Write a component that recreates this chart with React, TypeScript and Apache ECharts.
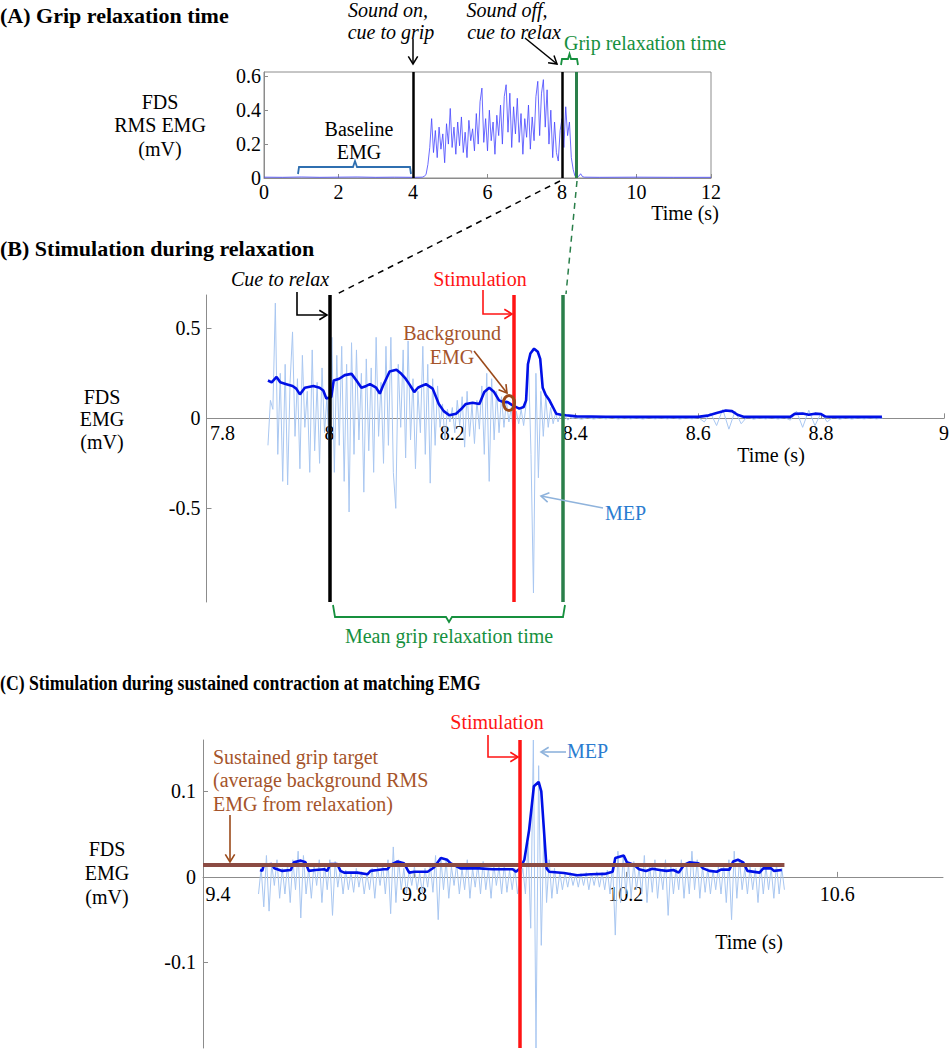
import React, { useEffect, useRef } from "react";
import * as echarts from "echarts";

const FONT = '"Liberation Serif", "Times New Roman", Times, serif';

// ---------------- Panel A: grip relaxation time ----------------
const cueGripTime = 4.0;
const cueRelaxTime = 8.0;
const relaxEndTime = 8.38;
const aRest: [number, number][] = [
  [0, 0.005], [0.5, 0.004], [1.0, 0.006], [1.5, 0.004], [2.0, 0.005],
  [2.5, 0.006], [3.0, 0.004], [3.5, 0.005], [4.0, 0.004], [4.25, 0.005],
];
const aGripStart = 4.3;
const aGripStep = 0.05;
const aGripRms = [
  0.01, 0.02, 0.08, 0.18, 0.35, 0.15, 0.28, 0.12, 0.30, 0.17,
  0.26, 0.09, 0.32, 0.20, 0.41, 0.18, 0.30, 0.14, 0.33, 0.19,
  0.36, 0.15, 0.27, 0.12, 0.34, 0.22, 0.29, 0.16, 0.38, 0.20,
  0.45, 0.53, 0.21, 0.35, 0.16, 0.40, 0.22, 0.33, 0.14, 0.37,
  0.25, 0.43, 0.20, 0.48, 0.55, 0.27, 0.50, 0.18, 0.42, 0.26,
  0.47, 0.21, 0.38, 0.14, 0.35, 0.24, 0.43, 0.17, 0.36, 0.22,
  0.48, 0.57, 0.25, 0.50, 0.58, 0.30, 0.52, 0.20, 0.40, 0.12,
  0.33, 0.15, 0.10, 0.28, 0.35, 0.18, 0.42, 0.25, 0.33, 0.12,
  0.05, 0.01,
];
const aAfter: [number, number][] = [
  [8.4, 0.005], [8.45, 0.01], [8.5, 0.025], [8.55, 0.008], [8.6, 0.005],
  [9, 0.004], [10, 0.005], [11, 0.004], [12, 0.004],
];

// ---------------- Panel B: stimulation during relaxation ----------------
const stimTimeB = 8.301;
const bRawStart = 7.9;
const bRawStep = 0.004;
const bRawActive = [
  -0.15, 0.10, 0.05, 0.64, -0.20, 0.25, -0.35, 0.30, -0.37, 0.20,
  0.48, -0.10, 0.22, -0.28, 0.35, -0.05, 0.15, -0.30, 0.38, -0.18,
  0.20, -0.25, 0.28, -0.08, 0.12, -0.22, 0.45, -0.30, 0.35, -0.15,
  0.40, -0.35, 0.30, -0.52, 0.42, -0.20, 0.38, -0.12, 0.25, -0.41,
  0.33, -0.18, 0.28, -0.30, 0.45, -0.10, 0.20, -0.25, 0.40, -0.15,
  0.45, -0.30, -0.50, 0.30, -0.05, 0.38, -0.22, 0.43, -0.12, 0.22,
  -0.28, 0.15, -0.08, 0.40, -0.20, 0.30, -0.36, 0.22, -0.15, 0.18,
  -0.05, 0.08, -0.12, 0.05, -0.02, 0.06, -0.08, 0.10, -0.04, 0.12,
  -0.16, 0.15, -0.10, 0.08, -0.14, 0.10, -0.06, 0.18, -0.20, 0.25,
  -0.35, 0.22, -0.12, 0.15, -0.08, 0.12, -0.05, 0.10, -0.02, 0.06,
  -0.13, 0.04, -0.03, 0.05, -0.04, 0.08, 0.30, -0.20, -0.97, 0.25,
  -0.33, 0.15, -0.10, 0.12, -0.05, 0.06, -0.03, 0.03, -0.02, 0.02,
  -0.01, 0.01, -0.01, 0.005, 0.0,
];
const bRawTailStart = 8.4;
const bRawTailStep = 0.01;
const bRawTail = [
  0.005, -0.005, 0.004, -0.004, 0.003, -0.003, 0.004, -0.004, 0.003, -0.003,
  0.003, -0.004, 0.004, -0.003, 0.003, -0.003, 0.004, -0.004, 0.003, -0.003,
  0.005, -0.02, 0.03, -0.04, 0.05, -0.06, 0.04, -0.03, 0.01, -0.005,
  0.003, -0.003, 0.004, -0.004, 0.005, -0.01, 0.04, -0.05, 0.045, -0.04,
  0.03, -0.02, 0.01, -0.005, 0.004, -0.004, 0.003, -0.003, 0.003, -0.003,
  0.002,
];
const bRms: [number, number][] = [
  [7.9, 0.21], [7.906, 0.2], [7.914, 0.23], [7.92, 0.2], [7.93, 0.19],
  [7.94, 0.18], [7.946, 0.165], [7.952, 0.133], [7.96, 0.17], [7.974, 0.18],
  [7.984, 0.17], [7.99, 0.155], [7.995, 0.11], [8.003, 0.118], [8.007, 0.21],
  [8.016, 0.22], [8.025, 0.24], [8.036, 0.247], [8.044, 0.21], [8.052, 0.17],
  [8.06, 0.18], [8.066, 0.19], [8.076, 0.17], [8.082, 0.137], [8.087, 0.18],
  [8.098, 0.26], [8.109, 0.27], [8.117, 0.247], [8.124, 0.22], [8.13, 0.19],
  [8.138, 0.146], [8.144, 0.17], [8.15, 0.18], [8.157, 0.19], [8.168, 0.165],
  [8.178, 0.08], [8.186, 0.04], [8.195, 0.017], [8.206, 0.026], [8.214, 0.05],
  [8.222, 0.08], [8.233, 0.087], [8.244, 0.08], [8.252, 0.146], [8.26, 0.17],
  [8.268, 0.146], [8.276, 0.1], [8.283, 0.09], [8.29, 0.09], [8.298, 0.072],
  [8.309, 0.054], [8.316, 0.063], [8.32, 0.1], [8.323, 0.3], [8.327, 0.36],
  [8.333, 0.387], [8.339, 0.37], [8.343, 0.33], [8.347, 0.17], [8.352, 0.13],
  [8.358, 0.1], [8.364, 0.06], [8.369, 0.026], [8.377, 0.02], [8.385, 0.017],
  [8.402, 0.011], [8.45, 0.009], [8.5, 0.008], [8.55, 0.008], [8.6, 0.008],
  [8.615, 0.015], [8.63, 0.03], [8.645, 0.044], [8.655, 0.04], [8.664, 0.02],
  [8.675, 0.008], [8.7, 0.008], [8.75, 0.008], [8.757, 0.025], [8.77, 0.027],
  [8.78, 0.02], [8.79, 0.026], [8.8, 0.024], [8.807, 0.01], [8.82, 0.008],
  [8.85, 0.008], [8.899, 0.008],
];

// ---------------- Panel C: sustained contraction ----------------
const stimTimeC = 10.003;
const targetEmg = 0.014;
const targetSpan = [9.4, 10.5];
const cRawStart = 9.505;
const cRawStep = 0.005;
const cRaw = [
  -0.02, 0.01, -0.035, 0.025, -0.04, 0.015, -0.01, 0.02, -0.025, 0.01,
  -0.02, 0.015, -0.03, 0.02, -0.015, 0.03, -0.048, 0.025, -0.02, 0.01,
  -0.025, 0.015, -0.01, 0.02, -0.03, 0.015, -0.015, 0.02, -0.045, 0.018,
  -0.012, 0.01, -0.02, 0.008, -0.015, 0.005, -0.018, 0.01, -0.012, 0.006,
  -0.02, 0.004, -0.015, 0.01, -0.025, 0.012, -0.01, 0.015, -0.02, 0.02,
  -0.043, 0.035, -0.03, 0.02, -0.015, 0.01, -0.02, 0.008, -0.01, 0.012,
  -0.015, 0.005, -0.02, 0.01, -0.012, 0.015, -0.018, 0.025, -0.05, 0.022,
  -0.015, 0.02, -0.025, 0.012, -0.01, 0.015, -0.02, 0.01, -0.015, 0.02,
  -0.025, 0.01, -0.012, 0.015, -0.02, 0.018, -0.015, 0.01, -0.025, 0.015,
  -0.01, 0.012, -0.02, 0.015, -0.018, 0.008, -0.015, 0.01, -0.02, -0.005,
  0.01, -0.02, 0.04, -0.06, 0.16, -0.2, 0.13, -0.08, 0.06, -0.03,
  0.02, -0.025, 0.01, -0.02, 0.005, -0.015, 0.004, -0.012, 0.005, -0.01,
  0.003, -0.012, 0.004, -0.01, 0.005, -0.015, 0.004, -0.01, 0.006, -0.012,
  0.005, -0.015, 0.008, -0.02, 0.015, -0.068, 0.03, -0.03, 0.025, -0.02,
  0.015, -0.025, 0.018, -0.015, 0.01, -0.02, 0.025, -0.03, 0.015, -0.018,
  0.02, -0.025, 0.01, -0.015, 0.02, -0.045, 0.015, -0.02, 0.01, -0.015,
  0.02, -0.025, 0.015, -0.02, 0.03, -0.015, 0.02, -0.025, 0.012, -0.018,
  0.01, -0.02, 0.008, -0.015, 0.012, -0.02, 0.015, -0.03, 0.02, -0.05,
  0.03, -0.025, 0.02, -0.015, 0.01, -0.02, 0.012, -0.015, 0.01, -0.03,
  0.015, -0.02, 0.012, -0.015, 0.01, -0.025, 0.015, -0.02, 0.01, -0.015,
];
const cRms: [number, number][] = [
  [9.508, 0.008], [9.512, 0.007], [9.515, 0.014], [9.53, 0.015], [9.535, 0.01],
  [9.55, 0.007], [9.566, 0.008], [9.572, 0.017], [9.585, 0.019], [9.594, 0.017],
  [9.6, 0.007], [9.613, 0.008], [9.629, 0.009], [9.635, 0.007], [9.641, 0.015],
  [9.654, 0.015], [9.66, 0.007], [9.667, 0.005], [9.692, 0.005], [9.711, 0.003],
  [9.717, 0.007], [9.73, 0.008], [9.742, 0.009], [9.749, 0.009], [9.755, 0.014],
  [9.768, 0.018], [9.78, 0.016], [9.79, 0.005], [9.8, 0.006], [9.825, 0.006],
  [9.837, 0.011], [9.85, 0.022], [9.862, 0.02], [9.868, 0.016], [9.887, 0.01],
  [9.905, 0.01], [9.923, 0.01], [9.948, 0.009], [9.986, 0.009], [9.992, 0.006],
  [10.0, 0.01], [10.008, 0.02], [10.017, 0.055], [10.026, 0.106], [10.035, 0.111],
  [10.04, 0.1], [10.045, 0.055], [10.05, 0.01], [10.055, 0.006], [10.083, 0.0045],
  [10.108, 0.002], [10.134, 0.003], [10.16, 0.0035], [10.175, 0.006], [10.18, 0.022],
  [10.196, 0.025], [10.202, 0.017], [10.216, 0.014], [10.225, 0.009], [10.238, 0.007],
  [10.25, 0.0095], [10.264, 0.008], [10.277, 0.007], [10.29, 0.008], [10.3, 0.005],
  [10.31, 0.014], [10.32, 0.017], [10.337, 0.016], [10.346, 0.01], [10.358, 0.007],
  [10.372, 0.006], [10.38, 0.0085], [10.396, 0.0085], [10.403, 0.018], [10.412, 0.02],
  [10.422, 0.017], [10.43, 0.007], [10.453, 0.005], [10.46, 0.01], [10.475, 0.01],
  [10.48, 0.007], [10.495, 0.008],
];

// axis ranges and tick values
const bXRange = [7.8, 9];
const bYRange = [-1.02, 0.685];
const bYTicks = [-0.5, 0, 0.5];
const cXRange = [9.4, 10.8];
const cYRange = [-0.2, 0.16];
const cXTicks = [9.4, 9.8, 10.2, 10.6];
const cYTicks = [-0.1, 0, 0.1];

// colours
const GRAY = "#8c8c8c";
const RAW = "#a9c7f1";
const RMS = "#0010e6";
const RED = "#ff1414";
const GREEN_LINE = "#2a7f4a";
const GREEN_TXT = "#16903e";
const BROWN_TXT = "#a5542a";
const BROWN_LINE = "#8b4b43";
const MEP_TXT = "#2a7cd0";
const MEP_ARROW = "#8fb3dc";

// grid boxes (pixels)
const gridA = { left: 264, top: 72, width: 447, height: 106 };
const gridB = { left: 206.5, top: 295, width: 741.5, height: 307 };
const gridC = { left: 203, top: 740, width: 740, height: 308 };

const txt = (x: number, y: number, text: string, o: any = {}) => ({
  type: "text",
  x,
  y,
  z: 100,
  scaleX: o.scaleX || 1,
  silent: true,
  style: {
    text,
    fill: o.color || "#000",
    font: `${o.italic ? "italic " : ""}${o.bold ? "bold " : ""}${o.size || 20}px ${FONT}`,
    align: o.align || "center",
    textAlign: o.align || "center",
    verticalAlign: "middle",
    textVerticalAlign: "middle",
  },
});

const pline = (points: number[][], color: string, lw: number, dash?: number[]) => ({
  type: "polyline",
  z: 100,
  silent: true,
  shape: { points },
  style: { stroke: color, lineWidth: lw, fill: "none", lineDash: dash || null },
});

const arrow = (pts: number[][], color: string, lw: number, head = 9) => {
  const [x1, y1] = pts[pts.length - 2];
  const [x2, y2] = pts[pts.length - 1];
  const a = Math.atan2(y2 - y1, x2 - x1);
  const h1 = [x2 - head * Math.cos(a - 0.55), y2 - head * Math.sin(a - 0.55)];
  const h2 = [x2 - head * Math.cos(a + 0.55), y2 - head * Math.sin(a + 0.55)];
  return [pline(pts, color, lw), pline([h1, [x2, y2], h2], color, lw)];
};

const labelStyle = { color: "#000", fontSize: 20, fontFamily: FONT };

// offset that moves a bottom x axis up to the y = 0 line
const zeroOffset = (range: number[], height: number) => -(height * (0 - range[0])) / (range[1] - range[0]);

function buildOption(): any {
  const aData: [number, number][] = [
    ...aRest,
    ...aGripRms.map((v, i) => [aGripStart + i * aGripStep, v] as [number, number]),
    ...aAfter,
  ];
  const bRawData = [
    ...bRawActive.map((v, i) => [bRawStart + i * bRawStep, v]),
    ...bRawTail.map((v, i) => [bRawTailStart + i * bRawTailStep, v]),
  ];
  const cRawData = cRaw.map((v, i) => [cRawStart + i * cRawStep, v]);

  const vline = (x: number, color: string, width: number) => ({
    xAxis: x,
    lineStyle: { color, width, type: "solid" },
  });
  const markLines = (items: any[]) => ({
    silent: true,
    symbol: "none",
    label: { show: false },
    emphasis: { disabled: true },
    data: items,
  });

  const tick = { show: true, inside: true, length: 5, lineStyle: { color: GRAY } };
  const axLine = { show: true, onZero: false, lineStyle: { color: GRAY, width: 1 } };

  const G: any[] = [];
  // titles
  G.push(txt(0, 15, "(A) Grip relaxation time", { bold: true, size: 22, align: "left" }));
  G.push(txt(0, 248, "(B) Stimulation during relaxation", { bold: true, size: 22, align: "left" }));
  G.push(
    txt(0, 682, "(C) Stimulation during sustained contraction at matching EMG", {
      bold: true,
      size: 22,
      align: "left",
      scaleX: 0.805,
    })
  );
  // y labels
  G.push(txt(160, 102, "FDS"), txt(160, 125, "RMS EMG"), txt(160, 149, "(mV)"));
  G.push(txt(102, 397, "FDS"), txt(102, 419, "EMG"), txt(102, 442, "(mV)"));
  G.push(txt(107, 849, "FDS"), txt(107, 873, "EMG"), txt(107, 897, "(mV)"));
  // x labels
  G.push(txt(685, 213, "Time (s)"), txt(771, 455, "Time (s)"), txt(749, 942, "Time (s)"));

  // Panel A annotations
  G.push(txt(388, 10, "Sound on,", { italic: true }), txt(391, 32, "cue to grip", { italic: true }));
  G.push(...arrow([[413, 39], [413, 64]], "#000", 1.5));
  G.push(txt(507, 10, "Sound off,", { italic: true }), txt(514, 32, "cue to relax", { italic: true }));
  G.push(...arrow([[525, 38], [557, 64]], "#000", 1.5));
  G.push(txt(564, 43, "Grip relaxation time", { color: GREEN_TXT, align: "left" }));
  G.push(
    pline(
      [[561, 65], [562, 59], [568, 59], [569.5, 54], [571, 59], [577, 59], [578, 65]],
      GREEN_TXT,
      1.8
    )
  );
  G.push(txt(359, 129, "Baseline"), txt(359, 152, "EMG"));
  G.push(
    pline(
      [[298, 174], [299, 167], [353, 167], [355, 161], [357, 167], [410, 167], [411, 174]],
      "#2f6fb0",
      1.8
    )
  );
  G.push(pline([[560, 181], [335, 295]], "#000", 1.5, [6, 5]));
  G.push(pline([[577, 181], [566, 294]], GREEN_LINE, 1.5, [6, 5]));

  // Panel B annotations
  G.push(txt(280, 279, "Cue to relax", { italic: true }));
  G.push(...arrow([[297, 292], [297, 315], [327, 315]], "#000", 1.6));
  G.push(txt(480, 279, "Stimulation", { color: RED }));
  G.push(...arrow([[483, 290], [483, 314], [512, 314]], RED, 1.6));
  G.push(txt(452, 333, "Background", { color: BROWN_TXT }), txt(452, 357, "EMG", { color: BROWN_TXT }));
  G.push(...arrow([[474, 351], [507, 393]], "#9b4a1a", 1.6));
  G.push({
    type: "ellipse",
    z: 100,
    silent: true,
    shape: { cx: 509, cy: 403, rx: 5.5, ry: 7.5 },
    style: { stroke: "#9b4a1a", lineWidth: 3, fill: "none" },
  });
  G.push(txt(605, 513, "MEP", { color: MEP_TXT, align: "left" }));
  G.push(...arrow([[603, 508], [541, 496]], MEP_ARROW, 1.6));
  G.push(
    pline(
      [[333, 605], [335, 617], [446, 617], [449, 622], [452, 617], [563, 617], [565, 605]],
      GREEN_TXT,
      1.8
    )
  );
  G.push(txt(449, 636, "Mean grip relaxation time", { color: GREEN_TXT }));

  // Panel C annotations
  G.push(txt(497, 722, "Stimulation", { color: RED }));
  G.push(...arrow([[488, 735], [488, 757], [518, 757]], RED, 1.6));
  G.push(txt(567, 751, "MEP", { color: MEP_TXT, align: "left" }));
  G.push(...arrow([[566, 752], [541, 752]], MEP_ARROW, 1.6));
  G.push(
    txt(213, 757, "Sustained grip target", { color: BROWN_TXT, align: "left" }),
    txt(213, 780, "(average background RMS", { color: BROWN_TXT, align: "left" }),
    txt(213, 804, "EMG from relaxation)", { color: BROWN_TXT, align: "left" })
  );
  G.push(...arrow([[230, 815], [230, 862]], "#9b4a1a", 1.6));

  return {
    animation: false,
    backgroundColor: "#fff",
    grid: [
      { ...gridA, show: true, borderColor: GRAY, borderWidth: 1 },
      { ...gridB },
      { ...gridC },
    ],
    xAxis: [
      {
        gridIndex: 0,
        type: "value",
        min: 0,
        max: 12,
        interval: 2,
        axisLine: axLine,
        axisTick: { ...tick, length: 4 },
        axisLabel: { ...labelStyle, margin: 4 },
        splitLine: { show: false },
      },
      {
        gridIndex: 1,
        type: "value",
        position: "bottom",
        offset: zeroOffset(bYRange, gridB.height),
        min: bXRange[0],
        max: bXRange[1],
        interval: 0.2,
        axisLine: axLine,
        axisTick: tick,
        axisLabel: {
          ...labelStyle,
          margin: 5,
          formatter: (v: number) => {
            const s = String(+v.toFixed(1));
            return v < 7.85 ? `{s|${s}}` : s;
          },
          rich: { s: { ...labelStyle, padding: [0, 0, 0, 32] } },
        },
        splitLine: { show: false },
      },
      {
        gridIndex: 2,
        type: "value",
        position: "bottom",
        offset: zeroOffset(cYRange, gridC.height),
        min: cXRange[0],
        max: cXRange[1],
        axisLine: axLine,
        axisTick: { ...tick, customValues: cXTicks },
        axisLabel: {
          ...labelStyle,
          margin: 7,
          customValues: cXTicks,
          formatter: (v: number) => {
            const s = String(+v.toFixed(1));
            return v < 9.45 ? `{s|${s}}` : s;
          },
          rich: { s: { ...labelStyle, padding: [0, 0, 0, 30] } },
        },
        splitLine: { show: false },
      },
    ],
    yAxis: [
      {
        gridIndex: 0,
        type: "value",
        min: 0,
        max: 0.625,
        interval: 0.2,
        axisLine: axLine,
        axisTick: { ...tick, length: 4 },
        axisLabel: { ...labelStyle, margin: 3, formatter: (v: number) => String(+v.toFixed(1)) },
        splitLine: { show: false },
      },
      {
        gridIndex: 1,
        type: "value",
        min: bYRange[0],
        max: bYRange[1],
        axisLine: axLine,
        axisTick: { ...tick, customValues: bYTicks },
        axisLabel: {
          ...labelStyle,
          margin: 6,
          customValues: bYTicks,
          formatter: (v: number) => String(+v.toFixed(1)),
        },
        splitLine: { show: false },
      },
      {
        gridIndex: 2,
        type: "value",
        min: cYRange[0],
        max: cYRange[1],
        axisLine: axLine,
        axisTick: { ...tick, customValues: cYTicks },
        axisLabel: {
          ...labelStyle,
          margin: 7,
          customValues: cYTicks,
          formatter: (v: number) => String(+v.toFixed(1)),
        },
        splitLine: { show: false },
      },
    ],
    series: [
      {
        type: "line",
        xAxisIndex: 0,
        yAxisIndex: 0,
        data: aData,
        showSymbol: false,
        silent: true,
        lineStyle: { color: "#4545ff", width: 0.8 },
        markLine: markLines([
          vline(cueGripTime, "#000", 2.5),
          vline(cueRelaxTime, "#000", 2.5),
          vline(relaxEndTime, GREEN_LINE, 3),
        ]),
      },
      {
        type: "line",
        xAxisIndex: 1,
        yAxisIndex: 1,
        data: bRawData,
        showSymbol: false,
        silent: true,
        lineStyle: { color: RAW, width: 1 },
      },
      {
        type: "line",
        xAxisIndex: 1,
        yAxisIndex: 1,
        data: bRms,
        showSymbol: false,
        silent: true,
        lineStyle: { color: RMS, width: 2.6 },
        markLine: markLines([
          vline(cueRelaxTime, "#000", 3.5),
          vline(stimTimeB, RED, 3.5),
          vline(relaxEndTime, GREEN_LINE, 3.5),
        ]),
      },
      {
        type: "line",
        xAxisIndex: 2,
        yAxisIndex: 2,
        data: cRawData,
        showSymbol: false,
        silent: true,
        lineStyle: { color: RAW, width: 1 },
      },
      {
        type: "line",
        xAxisIndex: 2,
        yAxisIndex: 2,
        data: cRms,
        showSymbol: false,
        silent: true,
        lineStyle: { color: RMS, width: 2.6 },
      },
      {
        type: "line",
        xAxisIndex: 2,
        yAxisIndex: 2,
        data: targetSpan.map((t) => [t, targetEmg]),
        showSymbol: false,
        silent: true,
        lineStyle: { color: BROWN_LINE, width: 4 },
        markLine: markLines([vline(stimTimeC, RED, 3.5)]),
      },
    ],
    graphic: { elements: G },
  };
}

export default function App() {
  const ref = useRef<HTMLDivElement>(null);
  useEffect(() => {
    if (!ref.current) return;
    const chart = echarts.init(ref.current, undefined, { renderer: "svg" });
    chart.setOption(buildOption());
    return () => chart.dispose();
  }, []);
  return (
    <div
      ref={ref}
      style={{ position: "absolute", left: 0, top: 0, width: 952, height: 1050, background: "#fff" }}
    />
  );
}
